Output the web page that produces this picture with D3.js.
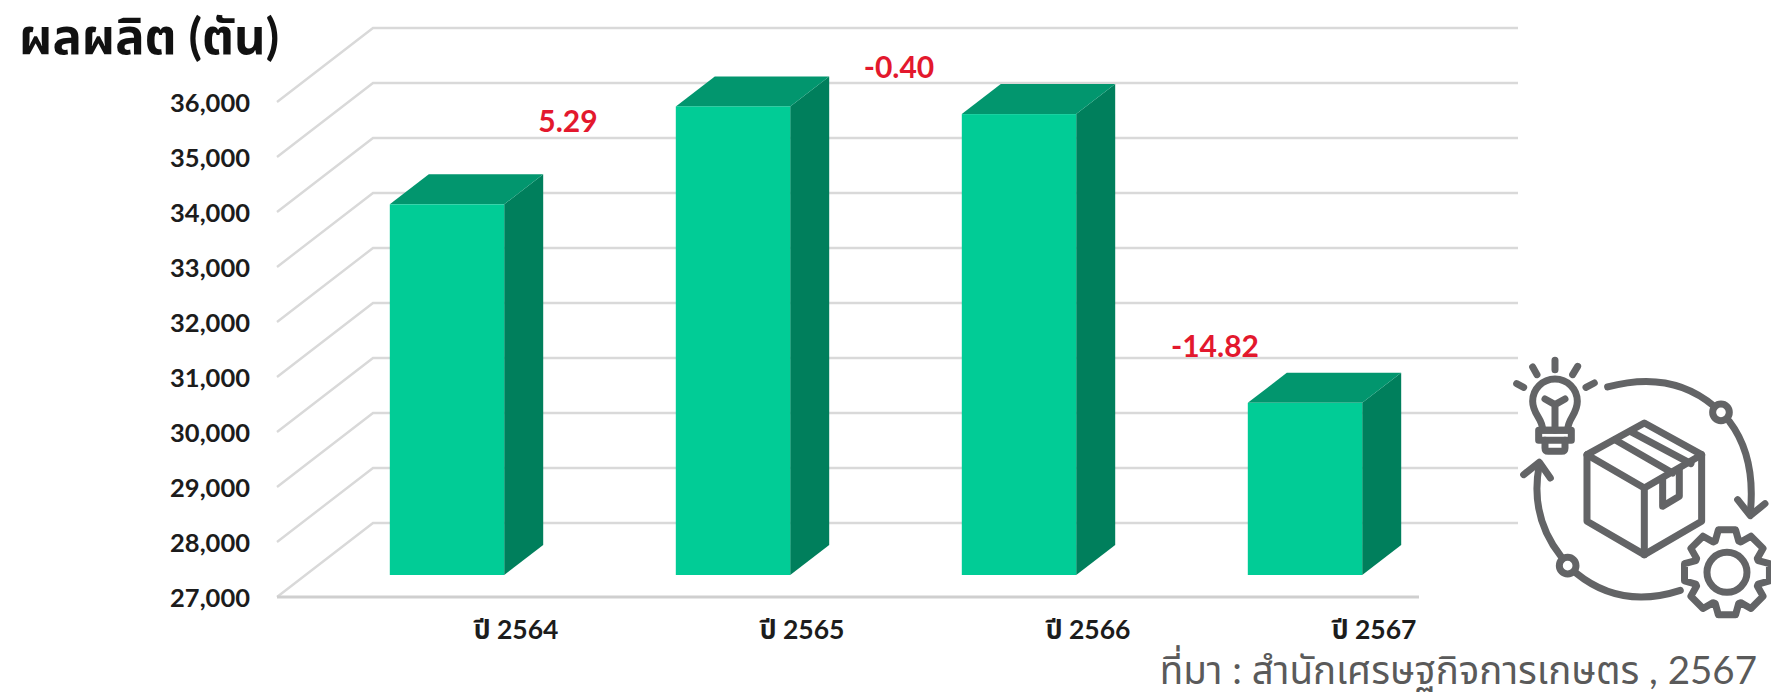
<!DOCTYPE html>
<html><head><meta charset="utf-8">
<script src="https://cdn.jsdelivr.net/npm/d3@7"></script>
<style>html,body{margin:0;background:#fff}svg{display:block}</style></head>
<body><svg id="c" width="1771" height="693"></svg>
<script>
const categories = ["ปี 2564","ปี 2565","ปี 2566","ปี 2567"];
const production = [33740,35520,35380,30130];
const changeLabels = ["5.29","-0.40","-14.82"];
const yTicks = [27000,28000,29000,30000,31000,32000,33000,34000,35000,36000];
const titleText = "ผลผลิต (ตัน)";
const sourceText = "ที่มา : สำนักเศรษฐกิจการเกษตร , 2567";

const svg = d3.select("#c");
const y = d3.scaleLinear().domain([27000,36000]).range([597,102]);
const x = d3.scaleBand().domain(categories).range([278,1422]).paddingInner(0.6).paddingOuter(0.3);
const floorStart = 277, floorEnd = 1419;
const wall = {dx:96, dy:-74, right:1518};
const barF = {dx:26, dy:-22}, barB = {dx:65, dy:-52};
const FONT = "Lato, 'Noto Sans', 'Noto Sans Thai', sans-serif";

const defs = svg.append("defs");
defs.append("filter").attr("id","soft").append("feGaussianBlur").attr("stdDeviation",0.6);

const grid = svg.append("g").attr("fill","none").attr("stroke","#d9d9d9").attr("stroke-width",2.4).attr("filter","url(#soft)");
grid.selectAll("path").data(yTicks).join("path")
  .attr("d", v => `M${floorStart},${y(v)}L${floorStart+wall.dx},${y(v)+wall.dy}H${wall.right}`);
grid.append("path").attr("d",`M${floorStart},${y(27000)}H${floorEnd}`).attr("stroke","#cfcfcf").attr("stroke-width",3);

const yAxis = d3.axisLeft(y).tickValues(yTicks).tickFormat(d3.format(",")).tickSize(0).tickPadding(0);
const ya = svg.append("g").attr("transform","translate(250,1)").call(yAxis);
ya.select(".domain").remove();
ya.selectAll("text").attr("font-family",FONT).attr("font-weight",700).attr("font-size",25.5).attr("fill","#1c1c1c");

const bars = svg.append("g").selectAll("g").data(production).join("g");
const X0 = (d,i)=>x(categories[i])+barF.dx, X1=(d,i)=>X0(d,i)+x.bandwidth();
const depthX = barB.dx-barF.dx, depthY = barB.dy-barF.dy;
const yTop = v=>y(v)+barF.dy, yBase = y(27000)+barF.dy;
bars.append("path").attr("fill","#007f5c").attr("d",(d,i)=>`M${X1(d,i)},${yTop(d)}l${depthX},${depthY}V${yBase+depthY}L${X1(d,i)},${yBase}Z`);
bars.append("path").attr("fill","#02966e").attr("d",(d,i)=>`M${X0(d,i)},${yTop(d)}l${depthX},${depthY}H${X1(d,i)+depthX}L${X1(d,i)},${yTop(d)}Z`);
bars.append("rect").attr("fill","#01cc96").attr("x",X0).attr("width",x.bandwidth()).attr("y",yTop).attr("height",d=>yBase-yTop(d));

svg.append("g").selectAll("text").data(categories).join("text")
  .attr("x",d=>x(d)+x.bandwidth()/2+95).attr("y",630).attr("dy","0.35em")
  .attr("text-anchor","middle").attr("font-family",FONT).attr("font-weight",700).attr("font-size",26.5).attr("fill","#1c1c1c").text(d=>d);

const labelPos = [[568,121],[899,67],[1215,346]];
svg.append("g").selectAll("text").data(changeLabels).join("text")
  .attr("x",(d,i)=>labelPos[i][0]).attr("y",(d,i)=>labelPos[i][1]).attr("dy","0.35em")
  .attr("text-anchor","middle").attr("font-family",FONT).attr("font-weight",700).attr("font-size",30).attr("fill","#e3182d").text(d=>d);

svg.append("text").attr("x",19).attr("y",54).attr("font-family",FONT).attr("font-weight",700).attr("font-size",49).attr("fill","#111").text(titleText);
svg.append("text").attr("x",1757).attr("y",684).attr("text-anchor","end").attr("font-family",FONT).attr("font-size",38.5).attr("fill","#5a5a5a").text(sourceText);

const ic = svg.append("g").attr("transform","translate(1471,343) scale(0.3333)").attr("fill","none")
  .attr("stroke","#636466").attr("stroke-width",21).attr("stroke-linecap","round").attr("stroke-linejoin","round");
const iconPaths = [
 "M410 132Q600 80 730 190","M775 235Q855 340 838 510","M800 470L838 518L882 482",
 "M628 742Q450 800 315 690","M270 640Q175 520 205 365","M158 395L205 358L238 405",
 "M215 262C215 225 185 215 185 175A67 67 0 0 1 319 175C319 215 290 225 290 262Z",
 "M203 262H301V292H203Z","M222 292V315Q222 325 232 325H272Q282 325 282 315V292",
 "M252 262V185M222 168L252 185L282 168",
 "M137 122L158 133M185 72L198 95M252 52V80M320 70L305 95M370 120L345 133",
 "M520 240L692 335V535L520 635L348 535V335Z","M348 335L520 435L692 335M520 435V635",
 "M432 290L605 390M478 265L660 362","M575 408V490L625 460V378"
];
ic.selectAll("path.p").data(iconPaths).join("path").attr("class","p").attr("d",d=>d);
ic.append("circle").attr("cx",750).attr("cy",208).attr("r",25);
ic.append("circle").attr("cx",290).attr("cy",668).attr("r",25);
const gearPts=[];
for(let k=0;k<8;k++){const a=k*Math.PI/4;
  [[-0.36,100],[-0.2,130],[0.2,130],[0.36,100]].forEach(([o,r])=>gearPts.push([a+o,r]));}
ic.append("path").attr("transform","translate(768,688)").attr("fill","#fff")
  .attr("d",d3.lineRadial().curve(d3.curveLinearClosed)(gearPts));
ic.append("circle").attr("cx",768).attr("cy",688).attr("r",60);
</script></body></html>
